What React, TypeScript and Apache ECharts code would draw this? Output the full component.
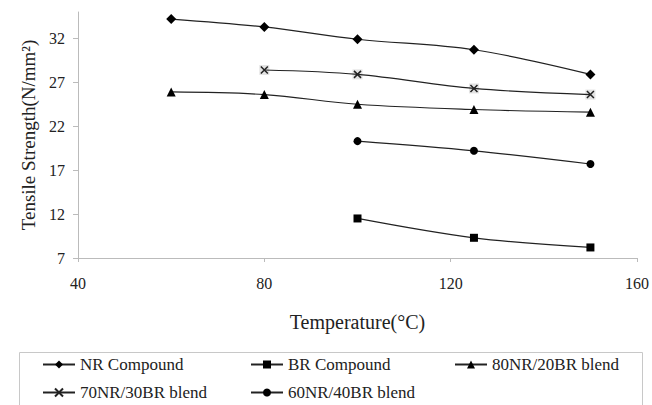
import React, { useEffect, useRef } from "react";
import * as echarts from "echarts";

// ---- data ----
const nrTemps = [60, 80, 100, 125, 150];
const nrValues = [34.2, 33.3, 31.9, 30.7, 27.9];
const brTemps = [100, 125, 150];
const brValues = [11.5, 9.3, 8.2];
const b8020Temps = [60, 80, 100, 125, 150];
const b8020Values = [25.9, 25.6, 24.5, 23.9, 23.6];
const b7030Temps = [80, 100, 125, 150];
const b7030Values = [28.4, 27.9, 26.3, 25.6];
const b6040Temps = [100, 125, 150];
const b6040Values = [20.3, 19.2, 17.7];

const yTickValues = [7, 12, 17, 22, 27, 32];
const xTickValues = [40, 80, 120, 160];

const seriesNames = [
  "NR Compound",
  "BR Compound",
  "80NR/20BR blend",
  "70NR/30BR blend",
  "60NR/40BR blend",
];

const pairs = (xs: number[], ys: number[]) => xs.map((x, i) => [x, ys[i]]);

const FONT = "Liberation Serif";
const X_PATH = "path://M0,0L10,10M10,0L0,10";

export default function App() {
  const ref = useRef<HTMLDivElement>(null);
  useEffect(() => {
    if (!ref.current) return;
    const chart = echarts.init(ref.current, undefined, { renderer: "svg" });
    const lineStyle = { color: "#222", width: 1.2 };
    const mk = (name: string, data: number[][], symbol: string, size: number, extra: any = {}) => ({
      name,
      type: "line",
      data,
      symbol,
      symbolSize: size,
      smooth: 0.35,
      lineStyle,
      itemStyle: { color: "#000" },
      z: 3,
      ...extra,
    });
    const legendPos = [
      { left: 42, top: 356 },
      { left: 250, top: 356 },
      { left: 454, top: 356 },
      { left: 42, top: 384 },
      { left: 250, top: 384 },
    ];
    chart.setOption({
      animation: false,
      backgroundColor: "#fff",
      textStyle: { fontFamily: FONT },
      grid: { left: 78, right: 12, top: 12, bottom: 147, containLabel: false },
      xAxis: {
        type: "value",
        min: 40,
        max: 160,
        interval: 40,
        name: "Temperature(°C)",
        nameLocation: "middle",
        nameGap: 54,
        nameTextStyle: { fontFamily: FONT, fontSize: 20, color: "#222" },
        axisLine: { show: true, lineStyle: { color: "#bbb", width: 1 } },
        axisTick: { show: true, length: 4, lineStyle: { color: "#bbb" }, customValues: xTickValues },
        axisLabel: {
          fontFamily: FONT,
          fontSize: 16,
          color: "#222",
          margin: 17,
          customValues: xTickValues,
        },
        splitLine: { show: false },
      },
      yAxis: {
        type: "value",
        min: 7,
        max: 35,
        name: "Tensile Strength(N/mm²)",
        nameLocation: "middle",
        nameGap: 40,
        nameTextStyle: { fontFamily: FONT, fontSize: 19, color: "#222" },
        axisLine: { show: true, lineStyle: { color: "#bbb", width: 1 } },
        axisTick: { show: true, length: 5, lineStyle: { color: "#bbb" }, customValues: yTickValues },
        axisLabel: {
          fontFamily: FONT,
          fontSize: 16,
          color: "#222",
          margin: 13,
          customValues: yTickValues,
        },
        splitLine: { show: false },
      },
      legend: seriesNames.map((n, i) => ({
        data: [n],
        left: legendPos[i].left,
        top: legendPos[i].top,
        padding: 0,
        itemWidth: 32,
        itemHeight: 10,
        selectedMode: false,
        textStyle: { fontFamily: FONT, fontSize: 17, color: "#222" },
      })),
      graphic: [
        {
          type: "rect",
          left: 17,
          top: 350,
          shape: { width: 623, height: 70 },
          style: { fill: "none", stroke: "#c8c8c8", lineWidth: 1 },
          z: 0,
        },
      ],
      series: [
        mk(seriesNames[0], pairs(nrTemps, nrValues), "diamond", 10),
        mk(seriesNames[1], pairs(brTemps, brValues), "rect", 8),
        mk(seriesNames[2], pairs(b8020Temps, b8020Values), "triangle", 9),
        {
          name: "70/30 background",
          type: "scatter",
          data: pairs(b7030Temps, b7030Values),
          symbol: "rect",
          symbolSize: 10,
          itemStyle: { color: "#dcdcdc" },
          z: 2,
        },
        mk(seriesNames[3], pairs(b7030Temps, b7030Values), X_PATH, 7, {
          itemStyle: { color: "transparent", borderColor: "#222", borderWidth: 1.5 },
        }),
        mk(seriesNames[4], pairs(b6040Temps, b6040Values), "circle", 8),
      ],
    });
    return () => chart.dispose();
  }, []);
  return (
    <div
      ref={ref}
      style={{ position: "absolute", left: 0, top: 0, width: 652, height: 405 }}
    />
  );
}
